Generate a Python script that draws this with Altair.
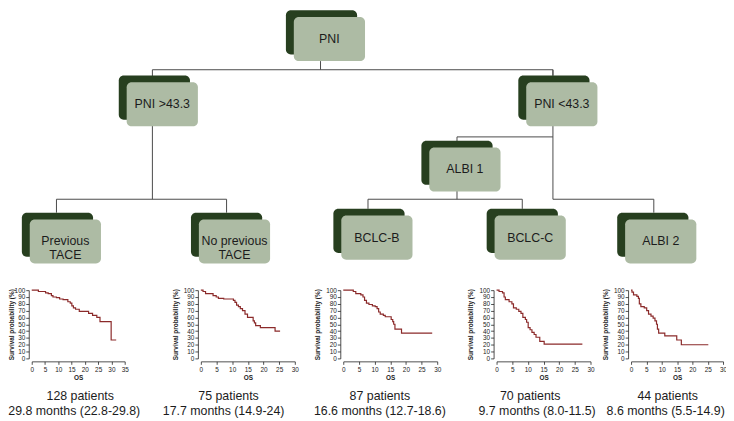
import altair as alt
import pandas as pd

# ---------------- data ----------------
node_labels = ["PNI", "PNI >43.3", "PNI <43.3", "ALBI 1", "Previous\nTACE",
               "No previous\nTACE", "BCLC-B", "BCLC-C", "ALBI 2"]

km_times = [
    [0, 2.5, 5.2, 6.2, 7.4, 8, 9.3, 10.5, 11.8, 13.6, 14.5, 15.1, 15.7, 16.5, 17.9, 21.4, 22.9, 24.5, 25.7, 29.9, 31.8],
    [0, 0.7, 1.5, 3.9, 4.9, 5.6, 7.3, 10.4, 10.9, 11.4, 12.0, 12.6, 13.3, 14.1, 14.9, 16.7, 17.1, 17.5, 19.0, 23.7, 25.3],
    [0, 3.2, 4.0, 5.6, 6.3, 6.8, 7.4, 8.2, 9.3, 10.2, 10.8, 11.3, 11.8, 12.8, 13.4, 15.3, 15.8, 16.1, 16.5, 18.6, 28.4],
    [0, 0.8, 1.9, 2.4, 2.8, 4.0, 4.9, 5.4, 6.3, 7.1, 7.8, 8.4, 9.2, 9.6, 10.1, 10.7, 11.3, 12.0, 12.6, 13.8, 15.2, 27.4],
    [0, 0.3, 0.8, 1.9, 2.4, 2.7, 3.2, 4.3, 5.1, 5.7, 6.5, 7.2, 7.8, 8.3, 8.6, 9.0, 11.0, 14.9, 16.4, 25.2],
]
km_surv = [
    [100, 98, 96, 95, 92, 90, 89, 87, 86, 83, 81, 77, 74, 72, 69, 66, 63, 60, 54, 27, 27],
    [100, 98, 95, 92, 90, 88, 87, 85, 82, 78, 76, 73, 70, 65, 60, 55, 52, 48, 45, 40, 40],
    [100, 98, 95, 93, 90, 85, 81, 79, 77, 76, 73, 68, 65, 63, 61, 57, 54, 50, 43, 37, 37],
    [100, 98, 96, 90, 86, 83, 80, 74, 72, 69, 66, 60, 57, 53, 45, 42, 38, 35, 31, 25, 21, 21],
    [100, 97, 93, 91, 88, 80, 76, 74, 70, 65, 62, 59, 55, 50, 43, 37, 33, 27, 20, 20],
]
km_xmax = [35, 30, 30, 30, 30]

patients_text = ["128 patients", "75 patients", "87 patients", "70 patients", "44 patients"]
months_text = ["29.8 months (22.8-29.8)", "17.7 months (14.9-24)", "16.6 months (12.7-18.6)",
               "9.7 months (8.0-11.5)", "8.6 months (5.5-14.9)"]

# ---------------- layout (pixel positions, page coordinates) ----------------
node_x = [289, 120, 524, 426, 22, 193, 337, 492, 624]
node_y = [0, 68, 68, 136, 211, 211, 207, 207, 211]
BOX_W, BOX_H, DX, DY = 72, 46, 8, 7

edge_x1 = [324, 154, 154, 559, 57, 57, 229, 559, 462, 462, 372, 372, 528, 559, 661]
edge_y1 = [53, 62, 62, 62, 197, 197, 197, 62, 132, 132, 197, 197, 197, 197, 197]
edge_x2 = [324, 559, 154, 559, 229, 57, 229, 559, 559, 462, 528, 372, 528, 661, 661]
edge_y2 = [62, 62, 197, 68, 197, 211, 211, 197, 132, 197, 197, 207, 207, 197, 211]

patients_x = [81, 231, 384, 536, 675]
months_x = [75, 226, 384, 543, 673]
patients_y, months_y = 398, 413

km_left = [32, 203, 347, 502, 638]
km_widths = [94, 95, 95, 95, 93]
km_top, km_bottom = 291, 360
AXIS_GAP = 3

W, H = 726, 413
M = 8  # page margin

DARK = "#273f1f"
LIGHT = "#adbba4"
LINE = "#4a4a4a"
FONT = "Liberation Sans"
INK = "#222222"

# ---------------- tree ----------------
xs = alt.Scale(domain=[M, M + W], range=[0, W], nice=False, zero=False)
ys = alt.Scale(domain=[0, 266], range=[0, 258], nice=False, zero=False)

boxes = pd.DataFrame({"label": node_labels, "bx": node_x, "by": node_y})
boxes["bx2"] = boxes["bx"] + BOX_W
boxes["by2"] = boxes["by"] + BOX_H
boxes["fx"] = boxes["bx"] + DX
boxes["fy"] = boxes["by"] + DY
boxes["fx2"] = boxes["fx"] + BOX_W
boxes["fy2"] = boxes["fy"] + BOX_H
boxes["cx"] = boxes["fx"] + BOX_W / 2
boxes["cy"] = boxes["fy"] + BOX_H / 2

edges = pd.DataFrame({"x1": edge_x1, "y1": edge_y1, "x2": edge_x2, "y2": edge_y2})

edge_layer = alt.Chart(edges).mark_rule(color=LINE, strokeWidth=1).encode(
    x=alt.X("x1:Q", scale=xs, axis=None), x2="x2:Q",
    y=alt.Y("y1:Q", scale=ys, axis=None), y2="y2:Q")
dark_layer = alt.Chart(boxes).mark_rect(color=DARK, cornerRadius=5).encode(
    x=alt.X("bx:Q", scale=xs, axis=None), x2="bx2:Q",
    y=alt.Y("by:Q", scale=ys, axis=None), y2="by2:Q")
light_layer = alt.Chart(boxes).mark_rect(color=LIGHT, cornerRadius=5).encode(
    x=alt.X("fx:Q", scale=xs, axis=None), x2="fx2:Q",
    y=alt.Y("fy:Q", scale=ys, axis=None), y2="fy2:Q")
label_layer = alt.Chart(boxes).mark_text(
    font=FONT, fontSize=12.5, color="#1c1c1c", lineBreak="\n", lineHeight=14,
    align="center", baseline="middle").encode(
    x=alt.X("cx:Q", scale=xs, axis=None),
    y=alt.Y("cy:Q", scale=ys, axis=None),
    text="label:N")

tree = alt.layer(edge_layer, dark_layer, light_layer, label_layer)

# ---------------- KM curves ----------------
def km_layer(i):
    df = pd.DataFrame({"t": km_times[i], "s": km_surv[i]})
    xmax = km_xmax[i]
    x0 = km_left[i] - M
    common = dict(tickSize=3, tickWidth=0.8, domainWidth=0.8,
                  domainColor=INK, tickColor=INK, labelColor=INK,
                  labelFont=FONT, labelFontSize=6.5, titleFont=FONT, titleFontSize=6.5,
                  titleFontWeight="bold", titleColor=INK, grid=False)
    xa = alt.Axis(orient="bottom", offset=(km_bottom + AXIS_GAP - M) - H,
                  values=list(range(0, xmax + 1, 5)), title="OS", labelPadding=2,
                  titlePadding=2, labelFlush=False, **common)
    ya = alt.Axis(orient="left", offset=-(x0 - AXIS_GAP),
                  values=list(range(0, 101, 10)), title="Survival probability (%)",
                  labelPadding=1, titlePadding=(0 if i == 0 else 5),
                  minExtent=0, maxExtent=60, **common)
    return alt.Chart(df).mark_line(interpolate="step-after", color="#8b2a2a", strokeWidth=1.2).encode(
        x=alt.X("t:Q", scale=alt.Scale(domain=[0, xmax], range=[x0, x0 + km_widths[i]], nice=False), axis=xa),
        y=alt.Y("s:Q", scale=alt.Scale(domain=[0, 100], range=[km_bottom - M, km_top - M], nice=False), axis=ya),
    )

# ---------------- bottom text ----------------
txt = pd.DataFrame({
    "x": patients_x + months_x,
    "y": [patients_y] * 5 + [months_y] * 5,
    "text": patients_text + months_text,
})
text_layer = alt.Chart(txt).mark_text(font=FONT, fontSize=12.5, color="#1c1c1c",
                                       align="center", baseline="middle").encode(
    x=alt.X("x:Q", scale=alt.Scale(domain=[M, M + W], range=[0, W], nice=False, zero=False), axis=None),
    y=alt.Y("y:Q", scale=alt.Scale(domain=[M, M + H], range=[0, H], nice=False, zero=False), axis=None),
    text="text:N",
)

chart = alt.layer(tree, *[km_layer(i) for i in range(5)], text_layer).resolve_scale(
    x="independent", y="independent").resolve_axis(x="independent", y="independent").properties(
    width=W, height=H, padding=0, background="white",
    autosize=alt.AutoSizeParams(type="none")).configure_view(stroke=None)

chart.save("out.html", embed_options={"renderer": "svg", "actions": False})
